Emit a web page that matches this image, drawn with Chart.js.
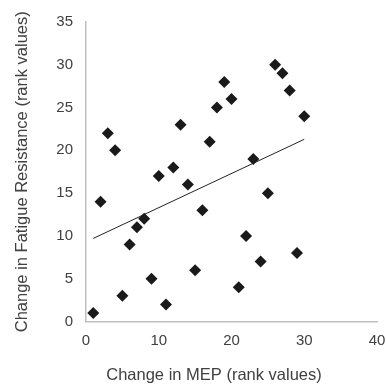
<!DOCTYPE html>
<html>
<head>
<meta charset="utf-8">
<script src="https://cdn.jsdelivr.net/npm/chart.js@4.4.1/dist/chart.umd.min.js"></script>
<style>
  html, body { margin: 0; padding: 0; background: #fff; }
  #wrap { width: 386px; height: 385px; }
</style>
</head>
<body>
<div id="wrap"><canvas id="rankChart"></canvas></div>
<script>
// Rank values per subject
const mepRank = [1, 2, 3, 4, 5, 6, 7, 8, 9, 10, 11, 12, 13, 14, 15,
                 16, 17, 18, 19, 20, 21, 22, 23, 24, 25, 26, 27, 28, 29, 30];
const fatigueRank = [1, 14, 22, 20, 3, 9, 11, 12, 5, 17, 2, 18, 23, 16, 6,
                     13, 21, 25, 28, 26, 4, 10, 19, 7, 15, 30, 29, 27, 8, 24];

const xTitle = "Change in MEP (rank values)";
const yTitle = "Change in Fatigue Resistance (rank values)";

// Least squares fit for the trend line
function linearFit(xs, ys) {
  const n = xs.length;
  const mx = xs.reduce((a, b) => a + b, 0) / n;
  const my = ys.reduce((a, b) => a + b, 0) / n;
  let sxy = 0, sxx = 0;
  for (let i = 0; i < n; i++) {
    sxy += (xs[i] - mx) * (ys[i] - my);
    sxx += (xs[i] - mx) * (xs[i] - mx);
  }
  const slope = sxy / sxx;
  return { slope, intercept: my - slope * mx };
}

const fit = linearFit(mepRank, fatigueRank);
const xMin = Math.min(...mepRank), xMax = Math.max(...mepRank);
const trend = [xMin, xMax].map(x => ({ x, y: fit.intercept + fit.slope * x }));
const points = mepRank.map((x, i) => ({ x, y: fatigueRank[i] }));

const textColor = "#404040";
const family = "'Liberation Sans', Arial, sans-serif";
const tickFont = { family, size: 15 };
const titleFont = { family, size: 16.5 };

// x axis title sits a little left of the plot centre
const xTitlePlugin = {
  id: "xTitle",
  afterDraw(chart) {
    const { ctx, chartArea } = chart;
    ctx.save();
    ctx.fillStyle = textColor;
    ctx.font = `${titleFont.size}px ${family}`;
    ctx.textAlign = "center";
    ctx.textBaseline = "middle";
    ctx.fillText(xTitle, chartArea.left + 128, chart.height - 10);
    ctx.restore();
  },
};

new Chart(document.getElementById("rankChart"), {
  type: "scatter",
  data: {
    datasets: [
      {
        label: "Ranks",
        data: points,
        pointStyle: "rectRot",
        pointRadius: 6,
        backgroundColor: "#1a1a1a",
        borderColor: "#1a1a1a",
        borderWidth: 0,
      },
      {
        label: "Trend",
        type: "line",
        data: trend,
        borderColor: "#222",
        borderWidth: 1,
        pointRadius: 0,
        fill: false,
      },
    ],
  },
  options: {
    responsive: true,
    maintainAspectRatio: false,
    animation: false,
    layout: { padding: { left: 0, top: 18, right: 9, bottom: 0 } },
    plugins: {
      legend: { display: false },
      tooltip: { enabled: false },
    },
    scales: {
      x: {
        type: "linear",
        min: 0,
        max: 40,
        ticks: { stepSize: 10, color: textColor, font: tickFont, padding: 10 },
        grid: { color: "transparent", drawTicks: false },
        border: { color: "#bfbfbf", width: 1.5 },
        title: { display: false },
        afterFit: (s) => {
          s.height = 63.5;
          s.paddingRight = 0;
        },
      },
      y: {
        min: 0,
        max: 35,
        ticks: { stepSize: 5, color: textColor, font: tickFont, padding: 13 },
        grid: { color: "transparent", drawTicks: false },
        border: { color: "#bfbfbf", width: 1.5 },
        title: { display: true, text: yTitle, color: textColor, font: titleFont, padding: { top: 13, bottom: 0 } },
        afterFit: (s) => { s.width = 86; },
      },
    },
  },
  plugins: [xTitlePlugin],
});
</script>
</body>
</html>
